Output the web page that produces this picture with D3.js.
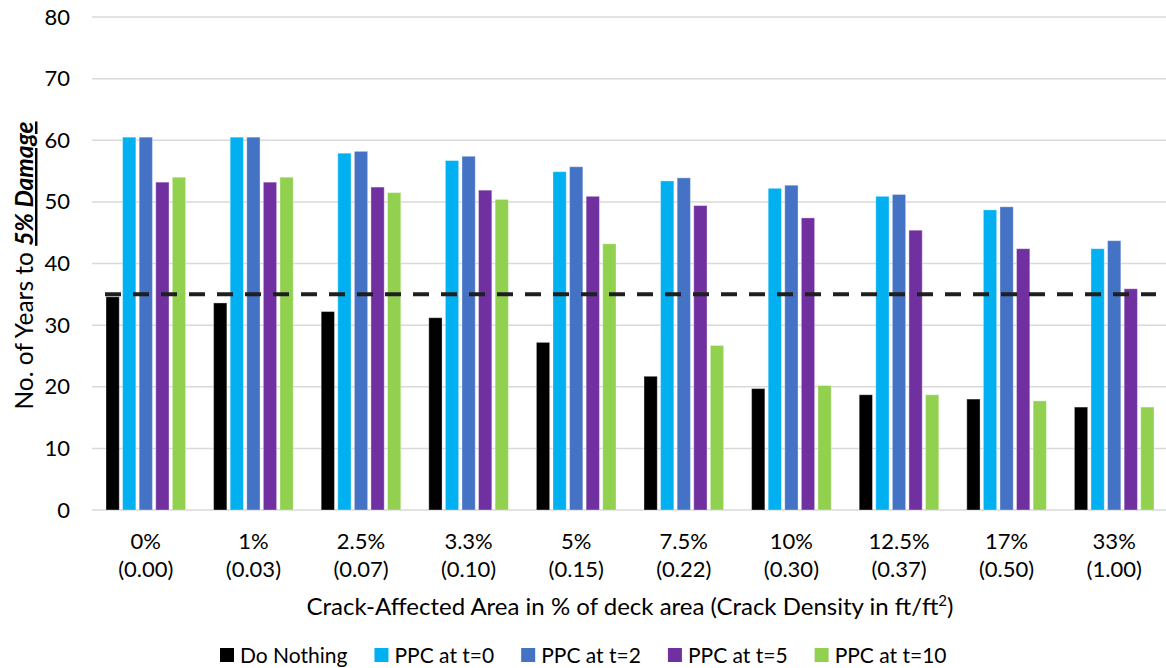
<!DOCTYPE html>
<html>
<head>
<meta charset="utf-8">
<script src="https://cdn.jsdelivr.net/npm/d3@7"></script>
<style>
  html, body { margin: 0; padding: 0; background: #fff; }
  svg { display: block; font-family: Lato, "Open Sans", sans-serif; }
</style>
</head>
<body>
<svg id="chart" width="1166" height="668"></svg>
<script>
// Crack-affected area (and crack density) categories
const categories = ["0%", "1%", "2.5%", "3.3%", "5%", "7.5%", "10%", "12.5%", "17%", "33%"];
const densities  = ["(0.00)", "(0.03)", "(0.07)", "(0.10)", "(0.15)", "(0.22)", "(0.30)", "(0.37)", "(0.50)", "(1.00)"];

// Years to 5% damage for each strategy
const seriesNames = ["Do Nothing", "PPC at t=0", "PPC at t=2", "PPC at t=5", "PPC at t=10"];
const doNothing = [34.6, 33.6, 32.2, 31.2, 27.2, 21.7, 19.7, 18.7, 18.0, 16.7];
const ppcT0     = [60.5, 60.5, 57.9, 56.7, 54.9, 53.4, 52.2, 50.9, 48.7, 42.4];
const ppcT2     = [60.5, 60.5, 58.2, 57.4, 55.7, 53.9, 52.7, 51.2, 49.2, 43.7];
const ppcT5     = [53.2, 53.2, 52.4, 51.9, 50.9, 49.4, 47.4, 45.4, 42.4, 35.9];
const ppcT10    = [54.0, 54.0, 51.5, 50.4, 43.2, 26.7, 20.2, 18.7, 17.7, 16.7];
const seriesColors = ["#000000", "#00B0F0", "#4472C4", "#7030A0", "#92D050"];

// Reference service life threshold (years)
const threshold = 35;

// Y axis ticks
const yTicks = [0, 10, 20, 30, 40, 50, 60, 70, 80];

const seriesValues = [doNothing, ppcT0, ppcT2, ppcT5, ppcT10];
const rows = categories.map((c, i) => ({
  cat: c,
  dens: densities[i],
  values: seriesNames.map((s, k) => ({ series: s, value: seriesValues[k][i], color: seriesColors[k] }))
}));

const svg = d3.select("#chart");
const margin = { left: 92, right: -2, top: 17, bottom: 158 };
const W = 1166, H = 668;

const x0 = d3.scaleBand()
  .domain(categories)
  .range([margin.left, W - margin.right])
  .paddingInner(0).paddingOuter(0);

const groupPad = 14;
const x1 = d3.scaleBand()
  .domain(seriesNames)
  .range([groupPad, x0.bandwidth() - groupPad])
  .paddingInner(0.2).paddingOuter(0);

const y = d3.scaleLinear()
  .domain([0, 80])
  .range([H - margin.bottom, margin.top]);

// Horizontal gridlines
svg.append("g")
  .selectAll("line")
  .data(yTicks)
  .join("line")
  .attr("x1", margin.left)
  .attr("x2", W)
  .attr("y1", d => y(d))
  .attr("y2", d => y(d))
  .attr("stroke", "#d9d9d9")
  .attr("stroke-width", 1.5);

// Y axis labels
const yAxis = d3.axisLeft(y).tickValues(yTicks).tickSize(0).tickPadding(22);
const yg = svg.append("g")
  .attr("transform", `translate(${margin.left},0)`)
  .call(yAxis);
yg.select(".domain").remove();
yg.selectAll("text")
  .attr("font-family", "Lato, sans-serif")
  .attr("font-size", 22)
  .attr("fill", "#000");

// Bars
const groups = svg.append("g")
  .selectAll("g")
  .data(rows)
  .join("g")
  .attr("transform", d => `translate(${x0(d.cat)},0)`);

groups.selectAll("rect")
  .data(d => d.values)
  .join("rect")
  .attr("x", d => x1(d.series))
  .attr("width", x1.bandwidth())
  .attr("y", d => y(d.value))
  .attr("height", d => y(0) - y(d.value))
  .attr("fill", d => d.color)
  .attr("stroke", "#ffffff")
  .attr("stroke-opacity", 0.35)
  .attr("stroke-width", 1);

// Threshold dashed line
const firstCat = categories[0], lastCat = categories[categories.length - 1];
svg.append("line")
  .attr("x1", x0(firstCat) + x1(seriesNames[0]) - 1)
  .attr("x2", x0(lastCat) + x1(seriesNames[seriesNames.length - 1]) + x1.bandwidth() + 2)
  .attr("y1", y(threshold))
  .attr("y2", y(threshold))
  .attr("stroke", "#1f1f1f")
  .attr("stroke-width", 4)
  .attr("stroke-dasharray", "16,12");

// X category labels (two lines)
const xl = svg.append("g")
  .selectAll("text")
  .data(rows)
  .join("text")
  .attr("text-anchor", "middle")
  .attr("font-size", 22)
  .attr("fill", "#000")
  .attr("x", d => x0(d.cat) + x0.bandwidth() / 2)
  .attr("y", y(0) + 39);
xl.append("tspan").text(d => d.cat);
xl.append("tspan")
  .attr("x", d => x0(d.cat) + x0.bandwidth() / 2)
  .attr("dy", 28)
  .text(d => d.dens);

// X axis title
const xt = svg.append("text")
  .attr("x", (margin.left + W - margin.right) / 2)
  .attr("y", 615)
  .attr("text-anchor", "middle")
  .attr("font-size", 24)
  .attr("fill", "#000");
xt.append("tspan").text("Crack-Affected Area in % of deck area (Crack Density in ft/ft");
xt.append("tspan").attr("font-size", 15).attr("dy", -9).text("2");
xt.append("tspan").attr("dy", 9).text(")");

// Y axis title
const yt = svg.append("text")
  .attr("transform", `translate(33,${(y(0) + y(80)) / 2 + 2}) rotate(-90)`)
  .attr("text-anchor", "middle")
  .attr("font-size", 24.5)
  .attr("fill", "#000");
yt.append("tspan").text("No. of Years to ");
yt.append("tspan")
  .attr("font-weight", "bold")
  .attr("font-style", "italic")
  .attr("text-decoration", "underline")
  .text("5% Damage");

// Legend
const legend = svg.append("g");
let lx = 220;
const ly = 655;
seriesNames.forEach((name, k) => {
  legend.append("rect")
    .attr("x", lx)
    .attr("y", ly - 7)
    .attr("width", 14)
    .attr("height", 14)
    .attr("fill", seriesColors[k]);
  const t = legend.append("text")
    .attr("x", lx + 20)
    .attr("y", ly + 7.5)
    .attr("font-size", 21)
    .attr("fill", "#000")
    .text(name);
  lx += 20 + t.node().getComputedTextLength() + 27;
});
</script>
</body>
</html>
